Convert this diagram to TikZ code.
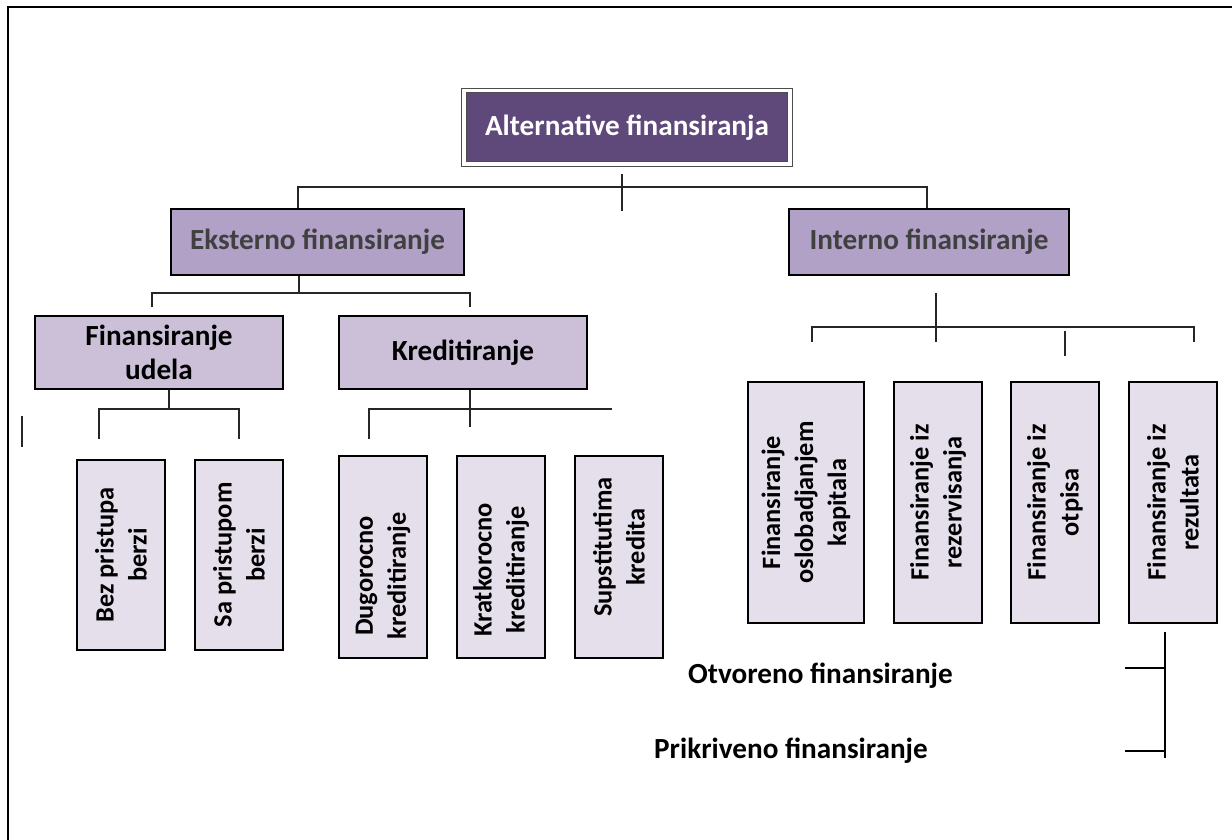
\documentclass[tikz,border=0pt]{standalone}
\usepackage{fontspec}
\setmainfont{Carlito}
\definecolor{titlefill}{HTML}{5F497A}
\definecolor{groupfill}{HTML}{B2A1C7}
\definecolor{subfill}{HTML}{CCC0D9}
\definecolor{leaffill}{HTML}{E5DFEC}
\definecolor{grouptext}{HTML}{404040}
\tikzset{
  box/.style={draw=black, line width=1.1pt, align=center, inner sep=2pt,
    font=\bfseries\fontsize{14.6}{17}\selectfont},
  titlebox/.style={box, fill=titlefill, text=white, draw=black!70, line width=0.6pt,
    double=white, double distance=1.6pt, minimum width=163pt, minimum height=36.75pt},
  groupbox/.style={box, fill=groupfill, text=grouptext, minimum height=33pt},
  subbox/.style={box, fill=subfill, minimum width=124pt, minimum height=36.5pt},
  leafbox/.style={box, fill=leaffill, rotate=90, minimum height=44pt,
    font=\bfseries\fontsize{13.2}{16.5}\selectfont},
  conn/.style={draw=black!85, line width=0.75pt},
  note/.style={anchor=base, font=\bfseries\fontsize{14.6}{17}\selectfont}
}
\begin{document}
\begin{tikzpicture}[x=0.5pt,y=-0.5pt]
    \useasboundingbox (0,0) rectangle (1232,840);
    \draw[line width=1.25pt] (8,840) -- (8,7) -- (1240,7);

    \node[titlebox] (title) at (627,127.3) {Alternative finansiranja};
    \node[groupbox, minimum width=146.5pt] (ext) at (317.5,242) {Eksterno finansiranje};
    \node[groupbox, minimum width=140pt] (int) at (929,242) {Interno finansiranje};

    \node[subbox] (udela) at (159,352.5) {Finansiranje\\udela};
    \node[subbox] (kred) at (463,352.5) {Kreditiranje};

    \node[leafbox, minimum width=95pt] (bez) at (121,555) {Bez pristupa\\berzi};
    \node[leafbox, minimum width=95pt] (sa) at (239,555) {Sa pristupom\\berzi};
    \node[leafbox, minimum width=101pt] (dug) at (383,557) {Dugorocno\hspace*{19pt}\\kreditiranje\hspace*{19pt}};
    \node[leafbox, minimum width=101pt] (krat) at (501,557) {Kratkorocno\hspace*{13pt}\\kreditiranje\hspace*{13pt}};
    \node[leafbox, minimum width=101pt] (sup) at (619,557) {\hspace*{10pt}Supstitutima\\\hspace*{10pt}kredita};

    \node[leafbox, minimum width=120.5pt, minimum height=58pt] (osl) at (806,502.5) {Finansiranje\\oslobadjanjem\\kapitala};
    \node[leafbox, minimum width=120.5pt] (rez) at (938,502.5) {Finansiranje iz\\rezervisanja};
    \node[leafbox, minimum width=120.5pt] (otp) at (1055,502.5) {Finansiranje iz\\otpisa};
    \node[leafbox, minimum width=120.5pt] (res) at (1173,502.5) {Finansiranje iz\\rezultata};

    \node[note] (otv) at (820.5,683.3) {Otvoreno finansiranje};
    \node[note] (prik) at (791,758.3) {Prikriveno finansiranje};

    % top level
    \coordinate (a1) at (298,187);
    \coordinate (a2) at (927,187);
    \coordinate (atop) at (622,174);
    \coordinate (abot) at (622,211);
    \draw[conn] (a1 |- ext.north) -- (a1) -- (a2) -- (a2 |- int.north);
    \draw[conn] (atop) -- (abot);

    % external
    \coordinate (e0) at (299,293);
    \coordinate (e1) at (152,293);
    \coordinate (e2) at (470,293);
    \coordinate (e1d) at (152,307);
    \coordinate (e2d) at (470,307);
    \draw[conn] (e0 |- ext.south) -- (e0);
    \draw[conn] (e1d) -- (e1) -- (e2) -- (e2d);

    \coordinate (u0) at (169,409);
    \coordinate (u1) at (99,409);
    \coordinate (u2) at (239,409);
    \coordinate (u1d) at (99,439);
    \coordinate (u2d) at (239,439);
    \draw[conn] (u0 |- udela.south) -- (u0);
    \draw[conn] (u1d) -- (u1) -- (u2) -- (u2d);
    \coordinate (s1) at (22,416);
    \coordinate (s2) at (22,447);
    \draw[conn] (s1) -- (s2);

    \coordinate (k0) at (470,427);
    \coordinate (k1) at (369,409);
    \coordinate (k2) at (612,409);
    \coordinate (k1d) at (369,439);
    \draw[conn] (k0 |- kred.south) -- (k0);
    \draw[conn] (k1d) -- (k1) -- (k2);

    % internal
    \coordinate (i0t) at (936,293);
    \coordinate (i0b) at (936,342);
    \coordinate (i1) at (812,327);
    \coordinate (i2) at (1194,327);
    \coordinate (i1d) at (812,342);
    \coordinate (i2d) at (1194,342);
    \coordinate (i3t) at (1065,331);
    \coordinate (i3b) at (1065,356);
    \draw[conn] (i0t) -- (i0b);
    \draw[conn] (i1d) -- (i1) -- (i2) -- (i2d);
    \draw[conn] (i3t) -- (i3b);

    % bracket under rezultata
    \coordinate (r0t) at (1165,632);
    \coordinate (r0b) at (1165,758);
    \coordinate (r1) at (1125,668);
    \coordinate (r2) at (1125,751);
    \draw[conn, draw=black] (r0t) -- (r0b);
    \draw[conn, draw=black] (r1) -- (r1 -| r0t);
    \draw[conn, draw=black] (r2) -- (r2 -| r0t);
\end{tikzpicture}
\end{document}
